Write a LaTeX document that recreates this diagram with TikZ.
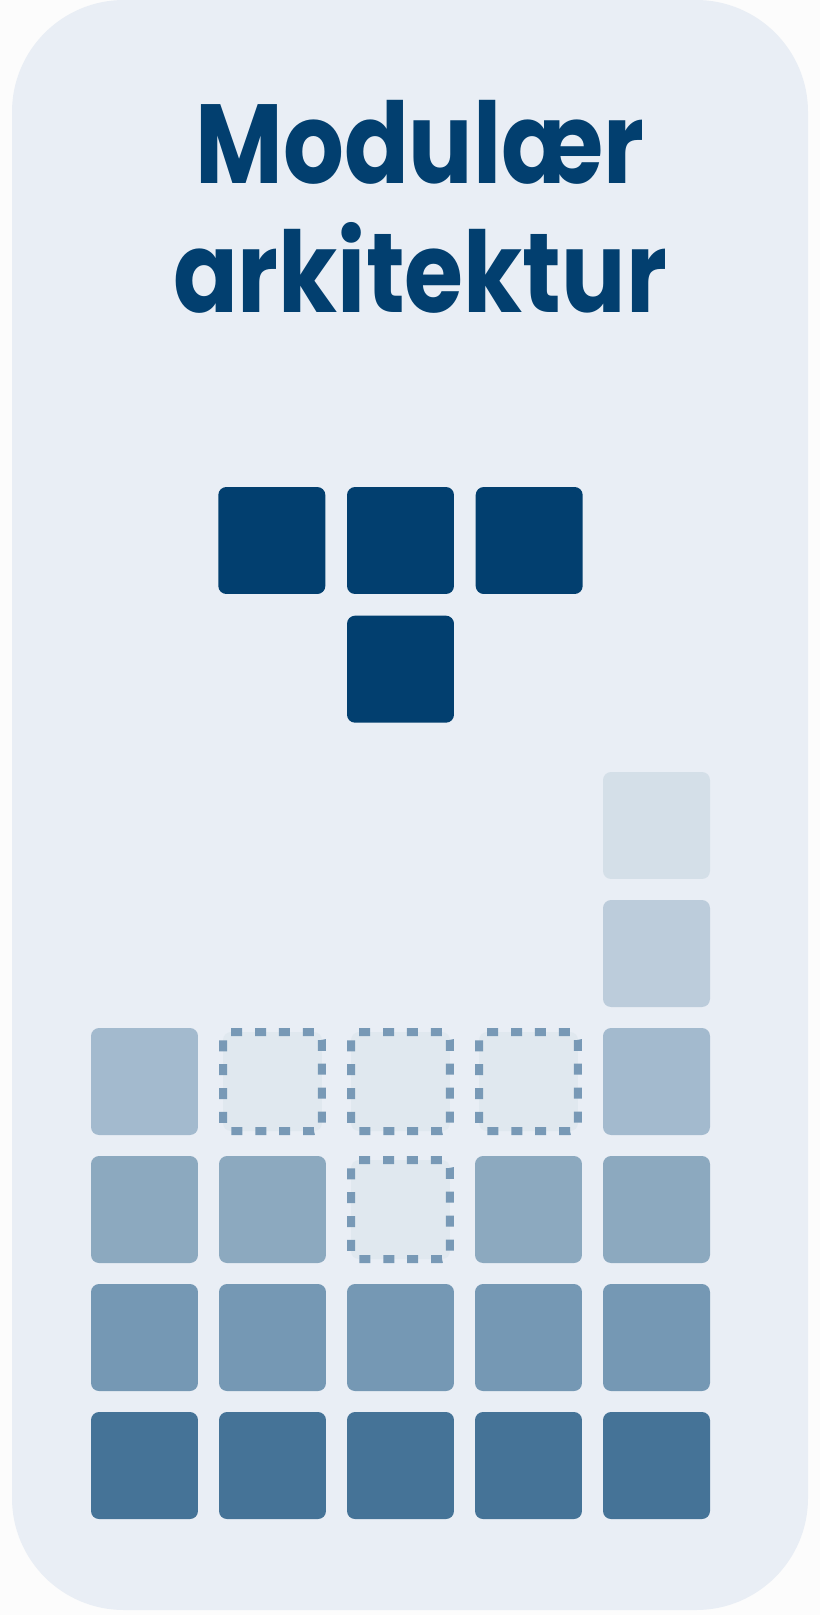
\documentclass[tikz,border=0pt]{standalone}
\usepackage{fontspec}
\setmainfont{Poppins}
\newfontfamily\titlefont{Poppins}[FakeStretch=0.85]
\usetikzlibrary{positioning}

\definecolor{pagewhite}{HTML}{FCFCFC}
\definecolor{panel}{HTML}{E9EEF5}
\definecolor{navy}{HTML}{023F6F}
\definecolor{tierA}{HTML}{457397}
\definecolor{tierB}{HTML}{7598B4}
\definecolor{tierC}{HTML}{8CA9BF}
\definecolor{tierD}{HTML}{A3BACE}
\definecolor{tierE}{HTML}{BCCCDB}
\definecolor{tierF}{HTML}{D4DFE8}
\definecolor{ghostfill}{HTML}{E0E8EF}
\definecolor{ghostline}{HTML}{7899B6}

\begin{document}
\begin{tikzpicture}[
x=0.02cm, y=-0.02cm,
node distance=0.42cm,
module/.style={rectangle, rounded corners=0.16cm, minimum size=2.14cm, inner sep=0pt, fill=#1},
module/.default=navy,
ghost/.style={rectangle, rounded corners=0.16cm, minimum size=1.98cm, inner sep=0pt,
  fill=ghostfill, draw=ghostline, line width=0.16cm,
  dash pattern=on 0.22cm off 0.258cm, dash phase=0.475cm},
title/.style={font=\titlefont\fontsize{64}{73.4}\selectfont\bfseries, text=navy, align=center}
]

% page and panel
\fill[pagewhite] (0,0) rectangle (820,1615);
\useasboundingbox (0,0) rectangle (820,1615);
\fill[panel, rounded corners=2.24cm] (12,0) rectangle (808,1610);

\node[title, anchor=base] (title) at (420,312) {Modulær\\arkitektur};

% the assembled module
\node[module] (top2) at (400.5,540.5) {};
\node[module, left=of top2] (top1) {};
\node[module, right=of top2] (top3) {};
\node[module, below=of top2] (top4) {};

% the stack
\foreach \c/\x in {1/144.5, 2/272.5, 3/400.5, 4/528.5, 5/656.5} {
  \node[module=tierA] (m-\c-1) at (\x,1465.5) {};
  \node[module=tierB] (m-\c-2) at (\x,1337.5) {};
}
\foreach \c/\x in {1/144.5, 2/272.5, 4/528.5, 5/656.5}
  \node[module=tierC] (m-\c-3) at (\x,1209.5) {};
\node[ghost] (g-3-3) at (400.5,1209.5) {};

\node[module=tierD] (m-1-4) at (144.5,1081.5) {};
\foreach \c/\x in {2/272.5, 3/400.5, 4/528.5}
  \node[ghost] (g-\c-4) at (\x,1081.5) {};
\node[module=tierD] (m-5-4) at (656.5,1081.5) {};

\node[module=tierE] (m-5-5) at (656.5,953.5) {};
\node[module=tierF] (m-5-6) at (656.5,825.5) {};

\end{tikzpicture}
\end{document}
